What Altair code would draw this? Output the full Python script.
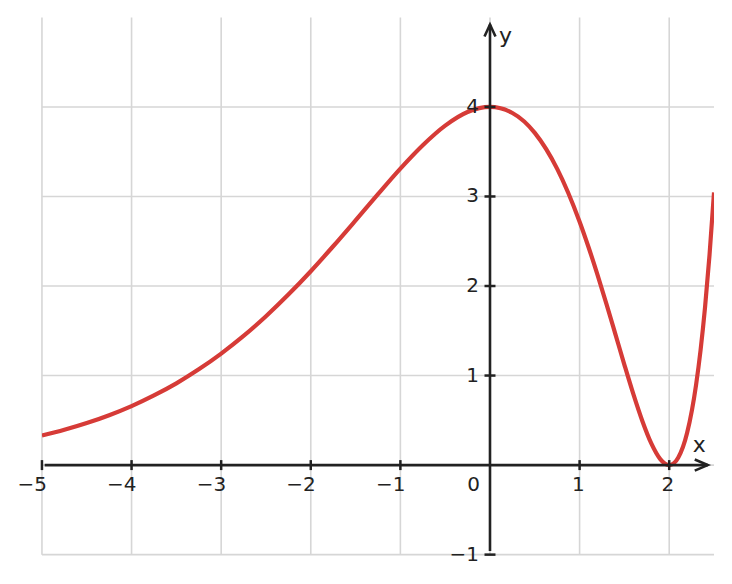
import altair as alt
import pandas as pd

# curve values
curve_x = [-5, -4.75, -4.5, -4.25, -4, -3.75, -3.5, -3.25, -3, -2.75, -2.5, -2.25,
           -2, -1.75, -1.5, -1.25, -1, -0.75, -0.5, -0.25, 0, 0.25, 0.5, 0.75,
           1.0, 1.1, 1.2, 1.3, 1.4, 1.5, 1.6, 1.7, 1.8, 1.9, 1.95, 2.0, 2.05,
           2.1, 2.2, 2.3, 2.35, 2.4, 2.45, 2.5]
curve_y = [0.330, 0.394, 0.469, 0.557, 0.659, 0.778, 0.913, 1.069, 1.245, 1.442,
           1.662, 1.904, 2.165, 2.444, 2.733, 3.026, 3.311, 3.572, 3.791, 3.943,
           4.000, 3.932, 3.710, 3.308, 2.718, 2.433, 2.125, 1.798, 1.460, 1.120,
           0.792, 0.493, 0.242, 0.067, 0.018, 0.000, 0.019, 0.082, 0.361, 0.898,
           1.284, 1.764, 2.347, 3.046]

x_domain = [-5, 2.5]
y_domain = [-1, 5]
x_grid = [-5, -4, -3, -2, -1, 0, 1, 2]
y_grid = [-1, 0, 1, 2, 3, 4]
x_ticks = [-5, -4, -3, -2, -1, 1, 2]
x_tick_labels = ["\u22125", "\u22124", "\u22123", "\u22122", "\u22121", "1", "2"]
y_ticks = [4, 3, 2, 1, -1]
y_tick_labels = ["4", "3", "2", "1", "\u22121"]
x_axis_extent = [-4.97, 2.43]
y_axis_extent = [-0.96, 4.92]

INK = "#222222"
GRID = "#d6d6d6"
FONT = "DejaVu Sans"

xs = alt.Scale(domain=x_domain, nice=False, zero=False)
ys = alt.Scale(domain=y_domain, nice=False, zero=False)


def X(f="x"):
    return alt.X(f"{f}:Q", scale=xs, axis=None)


def Y(f="y"):
    return alt.Y(f"{f}:Q", scale=ys, axis=None)


vgrid = alt.Chart(pd.DataFrame({"x": x_grid})).mark_rule(color=GRID, strokeWidth=1.6).encode(x=X())
hgrid = alt.Chart(pd.DataFrame({"y": y_grid})).mark_rule(color=GRID, strokeWidth=1.6).encode(y=Y())

curve_df = pd.DataFrame({"x": curve_x, "y": curve_y})
curve = alt.Chart(curve_df).mark_line(
    color="#d63b37", strokeWidth=4.2, interpolate="monotone", clip=True
).encode(x=X(), y=Y())

xaxis_df = pd.DataFrame({"x": [x_axis_extent[0]], "x2": [x_axis_extent[1]], "y": [0]})
xaxis = alt.Chart(xaxis_df).mark_rule(color=INK, strokeWidth=2.6).encode(x=X(), x2="x2:Q", y=Y())
yaxis_df = pd.DataFrame({"y": [y_axis_extent[0]], "y2": [y_axis_extent[1]], "x": [0]})
yaxis = alt.Chart(yaxis_df).mark_rule(color=INK, strokeWidth=2.6).encode(y=Y(), y2="y2:Q", x=X())

xarrow = alt.Chart(pd.DataFrame({"x": [x_axis_extent[1]], "y": [0]})).mark_point(
    shape="M-1,-0.43L0,0L-1,0.43", size=676, filled=False, stroke=INK, strokeWidth=2.6, opacity=1
).encode(x=X(), y=Y())
yarrow = alt.Chart(pd.DataFrame({"x": [0], "y": [y_axis_extent[1]]})).mark_point(
    shape="M-0.46,1L0,0L0.46,1", size=576, filled=False, stroke=INK, strokeWidth=2.6, opacity=1
).encode(x=X(), y=Y())

xt_df = pd.DataFrame({"x": x_ticks, "y": [0] * len(x_ticks), "t": x_tick_labels})
xticks = alt.Chart(xt_df).mark_tick(orient="vertical", size=10, thickness=2.5, color=INK, opacity=1).encode(
    x=X(), y=Y()
)
xlabels = alt.Chart(xt_df).mark_text(
    align="right", baseline="middle", dx=5, dy=20, font=FONT, fontSize=20, color=INK
).encode(x=X(), y=Y(), text="t:N")

yt_df = pd.DataFrame({"y": y_ticks, "x": [0] * len(y_ticks), "t": y_tick_labels})
yticks = alt.Chart(yt_df).mark_tick(orient="horizontal", size=11, thickness=2.5, color=INK, opacity=1).encode(
    x=X(), y=Y()
)
ylabels = alt.Chart(yt_df).mark_text(
    align="right", baseline="middle", dx=-11, font=FONT, fontSize=20, color=INK
).encode(x=X(), y=Y(), text="t:N")

zero_label = alt.Chart(pd.DataFrame({"x": [0], "y": [0], "t": ["0"]})).mark_text(
    align="right", baseline="middle", dx=-10, dy=20, font=FONT, fontSize=20, color=INK
).encode(x=X(), y=Y(), text="t:N")

xname = alt.Chart(pd.DataFrame({"x": [x_axis_extent[1]], "y": [0], "t": ["x"]})).mark_text(
    align="left", baseline="alphabetic", dx=-15, dy=-13, font=FONT, fontSize=22, color=INK
).encode(x=X(), y=Y(), text="t:N")
yname = alt.Chart(pd.DataFrame({"x": [0], "y": [y_axis_extent[1]], "t": ["y"]})).mark_text(
    align="left", baseline="alphabetic", dx=9, dy=18, font=FONT, fontSize=22, color=INK
).encode(x=X(), y=Y(), text="t:N")

chart = alt.layer(
    vgrid, hgrid, curve, xaxis, yaxis, xticks, yticks, xarrow, yarrow,
    xlabels, ylabels, zero_label, xname, yname
).properties(
    width=673, height=538,
    padding={"left": 34, "top": 9, "right": 10, "bottom": 20},
    autosize=alt.AutoSizeParams(type="none"),
    background="white",
).configure_view(strokeWidth=0)

chart.save("out.html", embed_options={"renderer": "svg", "actions": False})
